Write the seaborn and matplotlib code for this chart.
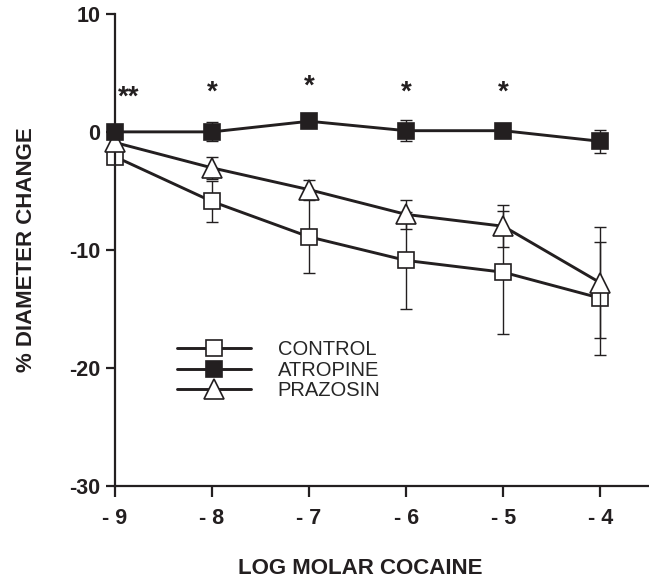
import numpy as np
import pandas as pd
import matplotlib
matplotlib.use('Agg')
import matplotlib.pyplot as plt
import seaborn as sns

# ==========================================
# data
# ==========================================
log_dose = [-9, -8, -7, -6, -5, -4]
dose_labels = ['- 9', '- 8', '- 7', '- 6', '- 5', '- 4']

control_mean = [-2.1, -5.9, -8.9, -10.9, -11.9, -14.1]
control_sem = [0.4, 1.7, 3.1, 4.1, 5.2, 4.8]

atropine_mean = [0.0, 0.0, 0.9, 0.1, 0.1, -0.8]
atropine_sem = [0.3, 0.8, 0.5, 0.9, 0.5, 0.95]

prazosin_mean = [-0.9, -3.05, -4.9, -7.0, -8.0, -12.8]
prazosin_sem = [0.3, 0.95, 0.8, 1.2, 1.8, 4.7]

star_x = [-8.86, -8, -7, -6, -5]
star_y = [2.9, 3.3, 3.8, 3.3, 3.3]
star_text = ['**', '*', '*', '*', '*']

y_ticks = [-30, -20, -10, 0, 10]

INK = '#231f20'

# ==========================================
# style
# ==========================================
sns.set_style('ticks')
plt.rcParams['font.family'] = ['Liberation Sans', 'DejaVu Sans']
plt.rcParams['axes.unicode_minus'] = False

fig = plt.figure(figsize=(6.49, 5.79), dpi=100)
ax = fig.add_axes([0.177, 0.161, 0.823, 0.815])

groups = {
    'CONTROL': (control_mean, control_sem, 's', 'white', 12, 2),
    'PRAZOSIN': (prazosin_mean, prazosin_sem, '^', 'white', 14, 3),
    'ATROPINE': (atropine_mean, atropine_sem, 's', INK, 12, 4),
}

handles = {}
for name, (mean, sem, mk, face, ms, z) in groups.items():
    df = pd.DataFrame({'dose': log_dose, 'change': mean})
    ax.errorbar(log_dose, mean, yerr=sem, fmt='none', ecolor=INK,
                elinewidth=1.0, capsize=4, capthick=1.0, zorder=z - 0.5,
                clip_on=False)
    sns.lineplot(data=df, x='dose', y='change', ax=ax, color=INK,
                 linewidth=2.1, marker=mk, markersize=ms,
                 markerfacecolor=face, markeredgecolor=INK,
                 markeredgewidth=1.2, label=name, zorder=z, clip_on=False)
    handles[name] = ax.get_lines()[-1]

for sx, sy, st in zip(star_x, star_y, star_text):
    ax.text(sx, sy, st, ha='center', va='center', fontsize=20,
            fontweight='bold', color=INK)

ax.set_xlim(-9, -3.5)
ax.set_ylim(-30, 10)
ax.set_xticks(log_dose)
ax.set_xticklabels(dose_labels)
ax.set_yticks(y_ticks)

for s in ['top', 'right']:
    ax.spines[s].set_visible(False)
for s in ['left', 'bottom']:
    ax.spines[s].set_linewidth(1.6)
    ax.spines[s].set_color(INK)

ax.tick_params(axis='x', direction='out', length=8, width=1.6, pad=8,
               labelsize=15.5, colors=INK)
ax.tick_params(axis='y', direction='out', length=6.5, width=1.6, pad=4,
               labelsize=15.5, colors=INK)
for lbl in ax.get_xticklabels() + ax.get_yticklabels():
    lbl.set_fontweight('bold')

ax.set_xlabel('LOG MOLAR COCAINE', fontsize=16, fontweight='bold', color=INK)
ax.set_ylabel('% DIAMETER CHANGE', fontsize=16, fontweight='bold', color=INK)
ax.xaxis.set_label_coords(0.46, -0.153)
ax.yaxis.set_label_coords(-0.145, 0.5)

order = ['CONTROL', 'ATROPINE', 'PRAZOSIN']
ax.legend([handles[n] for n in order], order, loc='upper left',
          bbox_to_anchor=(0.116, 0.308), frameon=False, fontsize=14.5,
          handlelength=3.7, handletextpad=1.3, labelspacing=0.07,
          borderpad=0, borderaxespad=0)

fig.savefig('out.png', dpi=100)
plt.close(fig)
